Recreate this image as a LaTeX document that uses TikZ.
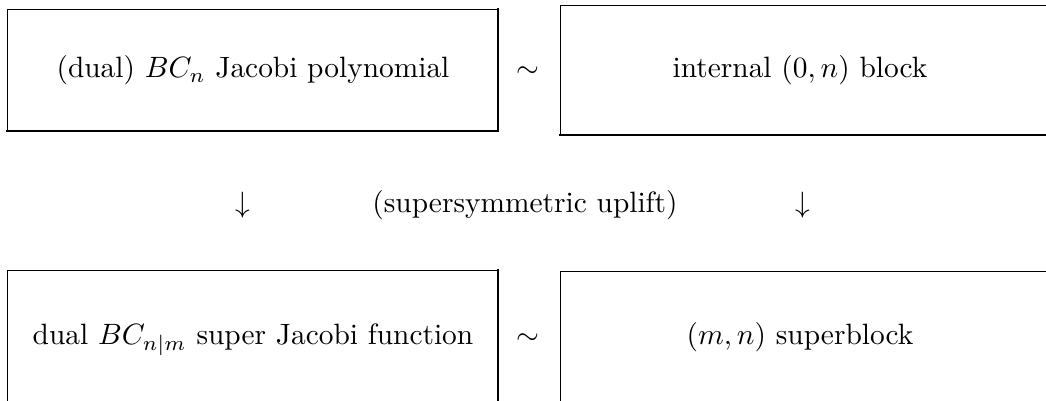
\documentclass[tikz,border=0pt]{standalone}
\begin{document}
\begin{tikzpicture}[x=0.3401pt,y=-0.3401pt,
  thinrule/.style={line width=0.4pt,line cap=rect},
  thickrule/.style={line width=0.9pt,line cap=rect},
  lbl/.style={inner sep=0pt,anchor=base}]
\useasboundingbox (0,0) rectangle (1046,401);
\clip (0,0) rectangle (1046,401);
% top-left box
\draw[thinrule] (7.5,131) -- (7.5,9.5) -- (498,9.5);
\draw[thickrule] (498,9.5) -- (498,131) -- (7.5,131);
% top-right box
\draw[thinrule] (560.5,135) -- (560.5,5.5) -- (1060,5.5);
\draw[thickrule] (560.5,135) -- (1060,135);
% bottom-left box
\draw[thinrule] (7.5,420) -- (7.5,270.5) -- (498,270.5);
\draw[thickrule] (498,270.5) -- (498,420);
% bottom-right box
\draw[thinrule] (560.5,420) -- (560.5,271.5) -- (1060,271.5);
% texts
\node[lbl] (tl) at (253,78) {(dual) $BC_n$ Jacobi polynomial};
\node[lbl] (tr) at (800,78) {internal $(0,n)$ block};
\node[lbl] (t1) at (528,78) {$\sim$};
\node[lbl] (a1) at (243,213) {$\downarrow$};
\node[lbl] (up) at (525,213) {(supersymmetric uplift)};
\node[lbl] (a2) at (803,213) {$\downarrow$};
\node[lbl] (bl) at (253,345) {dual $BC_{n|m}$ super Jacobi function};
\node[lbl] (br) at (800,345) {$(m,n)$ superblock};
\node[lbl] (t2) at (528,345) {$\sim$};
\end{tikzpicture}
\end{document}
